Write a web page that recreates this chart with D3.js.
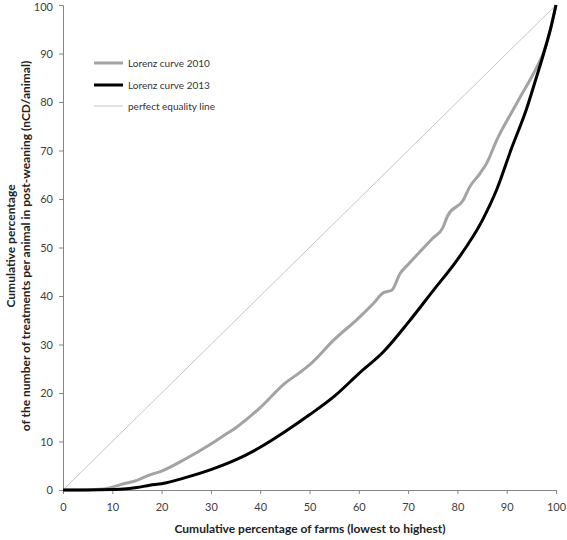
<!DOCTYPE html>
<html><head><meta charset="utf-8">
<script src="https://cdn.jsdelivr.net/npm/d3@7"></script>
<style>body{margin:0;background:#fff}svg{display:block}</style>
</head><body><svg id="c" width="567" height="540"></svg>
<script>
const xTicks = [0,10,20,30,40,50,60,70,80,90,100];
const yTicks = [0,10,20,30,40,50,60,70,80,90,100];
const seriesNames = ["Lorenz curve 2010","Lorenz curve 2013","perfect equality line"];
const x2010 = [0,5,8,10,12,15,17.6,20,25,30,33,35,40,45,48,50,55,60,63,65,66.7,68.4,70,75,77,78,81.2,82.5,84.6,86,88,91.3,93,94.7,96,97.4,98.8,100];
const y2010 = [0,0.05,0.2,0.6,1.2,2.0,3.1,3.9,6.5,9.5,11.5,12.8,17.0,22.0,24.2,25.8,31.0,35.5,38.5,40.7,41.2,44.7,46.5,51.9,54,56.5,59.8,62.5,65.3,67.5,72.2,78.4,81.5,84.5,87,90,94.8,100];
const x2013 = [0,5,10,13.5,15,17.6,20,25,30,35,40,45,50,55,60,65,70,75,80,85,88,91,94,96,97.5,99,100];
const y2013 = [0,0,0.1,0.3,0.5,1.0,1.3,2.6,4.2,6.2,8.8,12.0,15.5,19.3,24.0,28.5,34.5,41.0,47.5,55.5,62.0,70.5,78.5,85,90,95.5,100];
const xEq = [0,100];
const yEq = [0,100];

const svg = d3.select("#c");
const x = d3.scaleLinear().domain([0,100]).range([63,556]);
const y = d3.scaleLinear().domain([0,100]).range([490,5]);
const font = "Lato, 'Open Sans', sans-serif";
const axisCol = "#868686";

const gx = svg.append("g").attr("transform","translate(0,490)")
  .call(d3.axisBottom(x).tickValues(xTicks).tickSize(4).tickPadding(9));
const gy = svg.append("g").attr("transform","translate(63,0)")
  .call(d3.axisLeft(y).tickValues(yTicks).tickSize(4).tickPadding(6));
[gx,gy].forEach(g=>{
  g.selectAll("path,line").attr("stroke",axisCol);
  g.selectAll("text").attr("fill","#404040").style("font-family",font).style("font-size","11px");
});
gy.selectAll(".tick text").filter(d=>d===100).attr("dy","0.5em");

const line = d3.line().x(d=>x(d[0])).y(d=>y(d[1])).curve(d3.curveMonotoneX);
svg.append("path").datum(xEq.map((v,i)=>[v,yEq[i]])).attr("d",line)
  .attr("fill","none").attr("stroke","#b8b8b8").attr("stroke-width",0.8);
svg.append("path").datum(x2010.map((v,i)=>[v,y2010[i]])).attr("d",line)
  .attr("fill","none").attr("stroke","#a3a3a3").attr("stroke-width",3).attr("stroke-linejoin","round");
svg.append("path").datum(x2013.map((v,i)=>[v,y2013[i]])).attr("d",line)
  .attr("fill","none").attr("stroke","#000").attr("stroke-width",3).attr("stroke-linejoin","round");

// legend
const lg = [{c:"#a3a3a3",w:3},{c:"#000",w:3},{c:"#b8b8b8",w:0.8}];
const ly = [63,85,106];
seriesNames.forEach((n,i)=>{
  svg.append("line").attr("x1",94).attr("x2",123).attr("y1",ly[i]).attr("y2",ly[i])
    .attr("stroke",lg[i].c).attr("stroke-width",lg[i].w);
  svg.append("text").attr("x",128).attr("y",ly[i]+3.5).text(n)
    .attr("fill","#333").style("font-family",font).style("font-size","10px");
});

// axis titles
svg.append("text").attr("x",310).attr("y",533).attr("text-anchor","middle")
  .text("Cumulative percentage of farms (lowest to highest)")
  .attr("fill","#222").style("font-family",font).style("font-size","12px").style("font-weight","bold");
const yt = svg.append("text").attr("transform","translate(0,246) rotate(-90)").attr("text-anchor","middle")
  .attr("fill","#222").style("font-family",font).style("font-size","12px").style("font-weight","bold");
yt.append("tspan").attr("x",0).attr("y",15).text("Cumulative percentage");
yt.append("tspan").attr("x",0).attr("y",30).text("of the number of treatments per animal in post-weaning (nCD/animal)");
</script></body></html>
